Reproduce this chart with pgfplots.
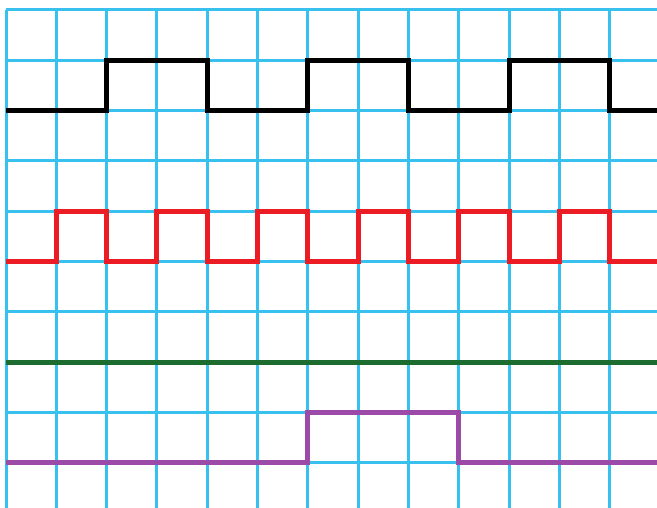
\documentclass[border=0pt]{standalone}
\usepackage{pgfplots}
\pgfplotsset{compat=1.18}
\definecolor{gridcyan}{RGB}{56,192,238}
\definecolor{sigred}{RGB}{236,28,36}
\definecolor{siggreen}{RGB}{28,108,48}
\definecolor{sigpurple}{RGB}{156,74,168}
\begin{document}
\begin{tikzpicture}
\begin{axis}[
  scale only axis,
  width=651pt, height=498pt,
  xmin=0, xmax=12.94,
  ymin=0.10, ymax=10,
  xtick={0,...,12}, ytick={1,...,10},
  xticklabels={}, yticklabels={},
  tick label style={inner sep=0pt},
  major tick length=0pt,
  axis line style={draw=none},
  grid=major,
  major grid style={gridcyan, line width=3pt},
  clip=true,
]
\addplot[const plot, black, line width=5pt, line join=miter, mark=none] coordinates {
  (0,8) (2,9) (4,8) (6,9) (8,8) (10,9) (12,8) (13.2,8)
};
\addplot[const plot, sigred, line width=5pt, line join=miter, mark=none] coordinates {
  (0,5) (1,6) (2,5) (3,6) (4,5) (5,6) (6,5) (7,6) (8,5) (9,6) (10,5) (11,6) (12,5) (13.2,5)
};
\addplot[siggreen, line width=5pt, mark=none] coordinates {
  (0,3) (13.2,3)
};
\addplot[const plot, sigpurple, line width=5pt, line join=miter, mark=none] coordinates {
  (0,1) (6,2) (9,1) (13.2,1)
};
\end{axis}
\pgfresetboundingbox
\path[use as bounding box] ([xshift=-6pt]current axis.south west) rectangle ([yshift=10pt]current axis.north east);
\end{tikzpicture}
\end{document}
